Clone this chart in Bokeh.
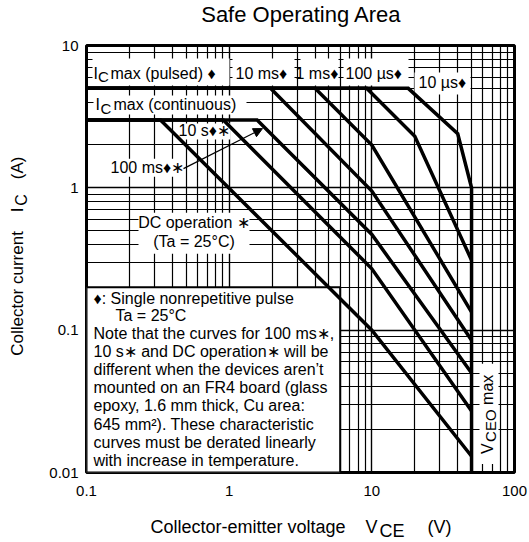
from math import pi
from bokeh.plotting import figure
from bokeh.models import Label, FixedTicker, Arrow, NormalHead, Range1d, CustomJSTickFormatter
from bokeh.embed import file_html
from bokeh.resources import INLINE

FONT = "Liberation Sans"
NB = "\u00a0"

# ---------------- data ----------------
x_major = [0.1, 1, 10, 100]
y_major = [0.01, 0.1, 1, 10]
x_minor = [m * d for d in [0.1, 1, 10] for m in range(2, 10)]
y_minor = [m * d for d in [0.01, 0.1, 1] for m in range(2, 10)]

vce_10us = [0.1, 18, 40, 50, 50]
ic_10us = [5, 5, 2.4, 1.0, 0.01]
vce_100us = [0.1, 9.2, 20, 50]
ic_100us = [5, 5, 2.3, 0.31]
vce_1ms = [0.1, 4.0, 10, 50]
ic_1ms = [5, 5, 2.0, 0.134]
vce_10ms = [0.1, 1.95, 10, 50]
ic_10ms = [5, 5, 0.95, 0.085]
vce_100ms = [0.1, 1.57, 10, 50]
ic_100ms = [3, 3, 0.47, 0.05]
vce_10s = [0.1, 0.91, 10, 50]
ic_10s = [3, 3, 0.27, 0.027]
vce_dc = [0.1, 0.33, 10, 50]
ic_dc = [3, 3, 0.1, 0.013]

note_v = [0.1, 6]
note_i = [0.01, 0.2]

note_lines = [
    "Note that the curves for 100 ms\u2217,",
    "10 s\u2217 and DC operation\u2217 will be",
    "different when the devices aren\u2019t",
    "mounted on an FR4 board (glass",
    "epoxy, 1.6 mm thick, Cu area:",
    "645 mm\u00b2). These characteristic",
    "curves must be derated linearly",
    "with increase in temperature.",
]

# --------- page-pixel -> data helpers for annotation placement ---------
def dx(px):
    return 0.1 * 10 ** ((px - 86) / 142.67)

def dy(py):
    return 10 ** (1 - (py - 45) / 142.17)

p = figure(width=529, height=542, x_axis_type="log", y_axis_type="log",
           x_range=Range1d(0.1, 100), y_range=Range1d(0.01, 10),
           output_backend="svg", toolbar_location=None,
           min_border_left=86, min_border_right=15, min_border_top=45, min_border_bottom=70)
p.background_fill_color = "white"
p.border_fill_color = "white"
p.outline_line_color = "black"
p.outline_line_width = 3
p.outline_line_alpha = 1

for ax, maj, mn in [(p.xaxis, x_major, x_minor), (p.yaxis, y_major, y_minor)]:
    ax.ticker = FixedTicker(ticks=maj, minor_ticks=mn)
    ax.formatter = CustomJSTickFormatter(code="return String(tick)")
    ax.axis_line_color = None
    ax.major_tick_line_color = None
    ax.minor_tick_line_color = None
    ax.major_tick_out = 0
    ax.major_tick_in = 0
    ax.major_label_text_font = FONT
    ax.major_label_text_font_size = "15px"
    ax.major_label_text_color = "black"
p.xaxis.major_label_standoff = 9
p.yaxis.major_label_standoff = 4

for g in (p.xgrid, p.ygrid):
    g.grid_line_color = "black"
    g.grid_line_width = 1.4
    g.grid_line_alpha = 1
    g.minor_grid_line_color = "black"
    g.minor_grid_line_width = 1.2
    g.minor_grid_line_alpha = 1

# white masks behind labels (page pixel boxes)
mask_boxes = [
    (92, 229, 58, 85), (232, 294, 58, 85), (300, 338, 58, 85), (343, 408, 58, 85),
    (414, 470, 72, 94), (93, 246, 95, 114), (176, 230, 123, 139), (107, 184, 158, 176),
    (138, 249, 212, 253), (479, 498, 363, 463),
]
p.quad(left=[dx(b[0]) for b in mask_boxes], right=[dx(b[1]) for b in mask_boxes],
       bottom=[dy(b[3]) for b in mask_boxes], top=[dy(b[2]) for b in mask_boxes],
       fill_color="white", line_color=None)

# note box
p.quad(left=[note_v[0]], right=[note_v[1]], bottom=[note_i[0]], top=[note_i[1]],
       fill_color="white", line_color="black", line_width=2)

for vs, cs in [(vce_10us, ic_10us), (vce_100us, ic_100us), (vce_1ms, ic_1ms), (vce_10ms, ic_10ms),
               (vce_100ms, ic_100ms), (vce_10s, ic_10s), (vce_dc, ic_dc)]:
    p.line(vs, cs, line_color="black", line_width=3.5, line_join="miter")

K = 0.37  # baseline correction (fraction of font size)

def lab(text, px, py, size=16, angle=0, align="left", place=None):
    if angle == 0:
        py = py - K * size
    else:
        px = px - K * size
    l = Label(x=dx(px), y=dy(py), text=text, text_font=FONT, text_font_size=f"{size}px",
              text_color="black", angle=angle, text_align=align, text_baseline="alphabetic")
    if place is None:
        p.add_layout(l)
    else:
        p.add_layout(l, place)

# title
lab("Safe Operating Area", 301, 22, size=22, align="center", place="above")

# axis labels (subscripts as separate labels)
lab("Collector-emitter voltage" + NB * 4 + "V" + NB * 10 + "(V)", 150, 533, size=18, place="below")
lab("CE", 379, 537, size=18, place="below")

lab("Collector current" + NB * 4 + "I" + NB * 6 + "(A)", 23, 355, size=17, angle=pi / 2, place="left")
lab("C", 27, 205, size=16, angle=pi / 2, place="left")

# curve labels
lab("I", 93, 79)
lab("C", 97.5, 82, size=15)
lab("max (pulsed) \u2666", 110, 79)
lab("10 ms\u2666", 235, 79)
lab("1 ms\u2666", 295, 79)
lab("100 \u00b5s\u2666", 345, 79)
lab("10 \u00b5s\u2666", 418, 88)
lab("I", 95, 110)
lab("C", 100, 113, size=15)
lab("max (continuous)", 113, 110)
lab("10 s\u2666\u2217", 178, 136)
lab("100 ms\u2666\u2217", 110, 173)
lab("DC operation \u2217", 193.5, 228, align="center")
lab("(Ta = 25\u00b0C)", 193.5, 247, align="center")

# VCEO max
lab("V", 493, 453, size=16, angle=pi / 2)
lab("CEO", 496, 441, size=15, angle=pi / 2)
lab("max", 493, 404, size=16, angle=pi / 2)

# note text
lab("\u2666: Single nonrepetitive pulse", 93, 304)
lab("Ta = 25\u00b0C", 115, 321)
for i, t in enumerate(note_lines):
    lab(t, 93, 339 + 18 * i)

# arrow
p.add_layout(Arrow(end=NormalHead(size=9, fill_color="black", line_color="black"),
                   x_start=dx(183), y_start=dy(168), x_end=dx(262), y_end=dy(128),
                   line_width=1.2, line_color="black"))

open("out.html", "w").write(file_html(p, INLINE))
